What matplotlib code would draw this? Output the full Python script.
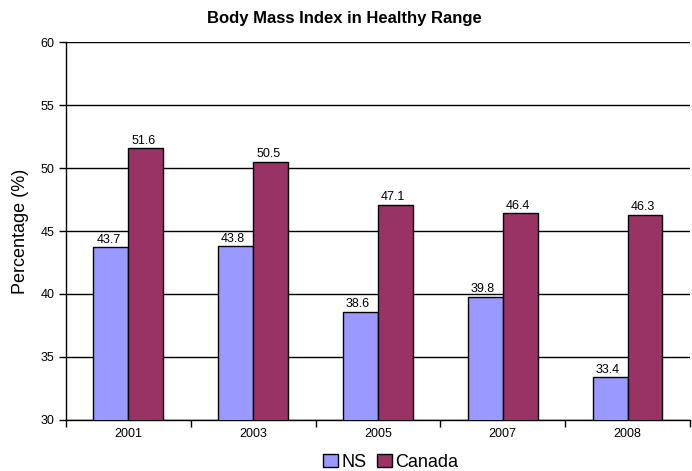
import matplotlib

matplotlib.use("Agg")
import matplotlib.pyplot as plt
import numpy as np

years = ["2001", "2003", "2005", "2007", "2008"]
ns_values = [43.7, 43.8, 38.6, 39.8, 33.4]
canada_values = [51.6, 50.5, 47.1, 46.4, 46.3]

NS_COLOR = "#9999FF"
CANADA_COLOR = "#993366"

plt.rcParams["font.family"] = ["Liberation Sans", "DejaVu Sans"]

fig = plt.figure(figsize=(6.92, 4.71), dpi=100)
ax = fig.add_axes([0.0954, 0.1083, 0.9016, 0.8025])

x = np.arange(len(years))
width = 0.28
ns_bars = ax.bar(x - width / 2, ns_values, width, color=NS_COLOR, edgecolor="black",
                 linewidth=1.0, label="NS", zorder=3)
ca_bars = ax.bar(x + width / 2, canada_values, width, color=CANADA_COLOR, edgecolor="black",
                 linewidth=1.0, label="Canada", zorder=3)

for bars, vals in ((ns_bars, ns_values), (ca_bars, canada_values)):
    for bar, v in zip(bars, vals):
        ax.text(bar.get_x() + bar.get_width() / 2 - 0.02, v + 0.1, f"{v:.1f}",
                ha="center", va="bottom", fontsize=9, zorder=4)

ax.set_ylim(30, 60)
ax.set_xlim(-0.5, len(years) - 0.5)
ax.set_yticks(np.arange(30, 61, 5))
ax.yaxis.grid(True, color="black", linewidth=1.0, zorder=0)
ax.set_axisbelow(True)

ax.set_xticks(x, years)
ax.set_xticks(np.arange(-0.5, len(years), 1.0), minor=True)
ax.tick_params(axis="x", which="major", length=0, labelsize=9, pad=6)
ax.tick_params(axis="x", which="minor", length=5, width=1.0, direction="out")
ax.tick_params(axis="y", length=5, width=1.0, labelsize=9, direction="out")

for side in ("top", "right"):
    ax.spines[side].set_visible(False)
ax.spines["left"].set_linewidth(1.0)
ax.spines["bottom"].set_linewidth(1.0)

ax.set_ylabel("Percentage (%)", fontsize=13, labelpad=8)
fig.text(0.497, 0.96, "Body Mass Index in Healthy Range", fontsize=12,
         fontweight="bold", ha="center", va="center")

fig.legend(handles=[ns_bars, ca_bars], labels=["NS", "Canada"], loc="lower center",
           bbox_to_anchor=(0.565, -0.034), ncol=2, frameon=False, fontsize=13,
           handlelength=0.8, handleheight=0.8, handletextpad=0.2, columnspacing=0.6)

fig.savefig("out.png", dpi=100, facecolor="white")
